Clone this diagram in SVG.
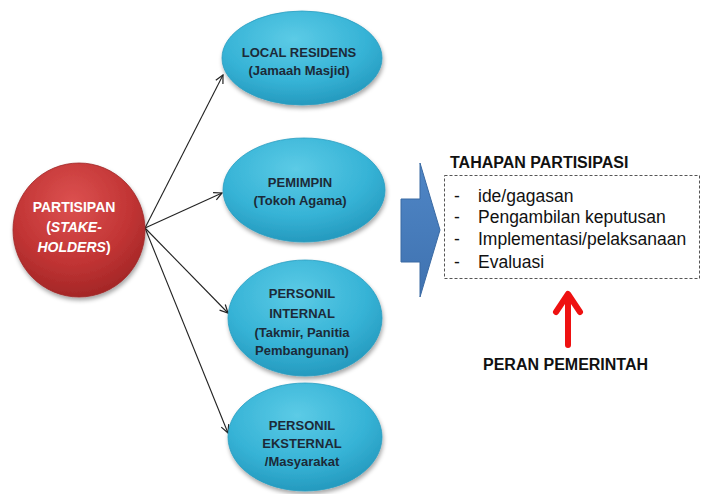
<svg xmlns="http://www.w3.org/2000/svg" width="702" height="494" viewBox="0 0 702 494">
<defs>
<radialGradient id="gRed" cx="0.45" cy="0.3" r="0.75">
<stop offset="0" stop-color="#dc5150"/>
<stop offset="0.6" stop-color="#c13434"/>
<stop offset="1" stop-color="#9e2424"/>
</radialGradient>
<radialGradient id="gBlue" cx="0.45" cy="0.3" r="0.75">
<stop offset="0" stop-color="#5ccbe6"/>
<stop offset="0.6" stop-color="#36b3d6"/>
<stop offset="1" stop-color="#2295ba"/>
</radialGradient>
<linearGradient id="gArrow" x1="0" y1="0" x2="0" y2="1">
<stop offset="0" stop-color="#4f86c6"/>
<stop offset="1" stop-color="#3f72b0"/>
</linearGradient>
<filter id="sh" x="-20%" y="-20%" width="140%" height="150%">
<feDropShadow dx="1" dy="3" stdDeviation="2" flood-color="#000" flood-opacity="0.35"/>
</filter>
<marker id="open" viewBox="0 0 10 10" refX="9" refY="5" markerWidth="10" markerHeight="10" markerUnits="userSpaceOnUse" orient="auto">
<path d="M1,1 L9,5 L1,9" fill="none" stroke="#222" stroke-width="1.2"/>
</marker>
</defs>
<style>
.nodeB{fill:url(#gBlue);stroke:#2a9dc0;stroke-width:0.8;filter:url(#sh)}
.nodeR{fill:url(#gRed);stroke:#a02828;stroke-width:0.8;filter:url(#sh)}
.tb{font-family:"Liberation Sans",Arial,sans-serif;font-weight:bold;font-size:13px;fill:#1c2a38;text-anchor:middle}
.tw{font-family:"Liberation Sans",Arial,sans-serif;font-weight:bold;font-size:14px;fill:#ffffff;text-anchor:middle}
.h{font-family:"Liberation Sans",Arial,sans-serif;font-weight:bold;font-size:16px;fill:#111}
.li{font-family:"Liberation Sans",Arial,sans-serif;font-size:17.5px;fill:#111}
.con{stroke:#222;stroke-width:1.1;fill:none;marker-end:url(#open)}
</style>

<g id="connectors">
<line class="con" x1="145" y1="228" x2="223" y2="75"/>
<line class="con" x1="145" y1="228" x2="222" y2="193"/>
<line class="con" x1="145" y1="228" x2="228" y2="313"/>
<line class="con" x1="145" y1="228" x2="228" y2="433"/>
</g>

<g id="partisipan">
<ellipse class="nodeR" cx="79" cy="230" rx="66" ry="67"/>
<text class="tw" x="74" y="212">PARTISIPAN</text>
<text class="tw" x="74" y="232">(<tspan font-style="italic">STAKE-</tspan></text>
<text class="tw" x="74" y="252"><tspan font-style="italic">HOLDERS</tspan>)</text>
</g>

<g id="local-residens">
<ellipse class="nodeB" cx="302" cy="58" rx="80" ry="47"/>
<text class="tb" x="299" y="57">LOCAL RESIDENS</text>
<text class="tb" x="299" y="75">(Jamaah Masjid)</text>
</g>

<g id="pemimpin">
<ellipse class="nodeB" cx="304" cy="190" rx="81" ry="52"/>
<text class="tb" x="300" y="187">PEMIMPIN</text>
<text class="tb" x="300" y="205">(Tokoh Agama)</text>
</g>

<g id="personil-internal">
<ellipse class="nodeB" cx="305" cy="318" rx="77" ry="58"/>
<text class="tb" x="302" y="298">PERSONIL</text>
<text class="tb" x="302" y="318">INTERNAL</text>
<text class="tb" x="302" y="337">(Takmir, Panitia</text>
<text class="tb" x="302" y="355">Pembangunan)</text>
</g>

<g id="personil-eksternal">
<ellipse class="nodeB" cx="305" cy="437" rx="77" ry="54"/>
<text class="tb" x="302" y="430">PERSONIL</text>
<text class="tb" x="302" y="448">EKSTERNAL</text>
<text class="tb" x="302" y="466">/Masyarakat</text>
</g>

<g id="block-arrow">
<path d="M401,199 L420,199 L420,163 L440,230 L420,297 L420,262 L401,262 Z" fill="url(#gArrow)" stroke="#3a6aa3" stroke-width="1"/>
</g>

<g id="tahapan">
<text class="h" x="450" y="168">TAHAPAN PARTISIPASI</text>
<rect x="444.5" y="175.5" width="255" height="103" fill="none" stroke="#555" stroke-width="1" stroke-dasharray="3,2"/>
<text class="li" x="454" y="202">-</text>
<text class="li" x="478" y="202">ide/gagasan</text>
<text class="li" x="454" y="223">-</text>
<text class="li" x="478" y="223">Pengambilan keputusan</text>
<text class="li" x="454" y="245">-</text>
<text class="li" x="478" y="245">Implementasi/pelaksanaan</text>
<text class="li" x="454" y="268">-</text>
<text class="li" x="478" y="268">Evaluasi</text>
</g>

<g id="peran-pemerintah">
<path d="M568,345 L568,295 M556,312 L568,294 L580,312" fill="none" stroke="#ee1111" stroke-width="6" stroke-linecap="round" stroke-linejoin="round"/>
<text class="h" x="483" y="370">PERAN PEMERINTAH</text>
</g>
</svg>
